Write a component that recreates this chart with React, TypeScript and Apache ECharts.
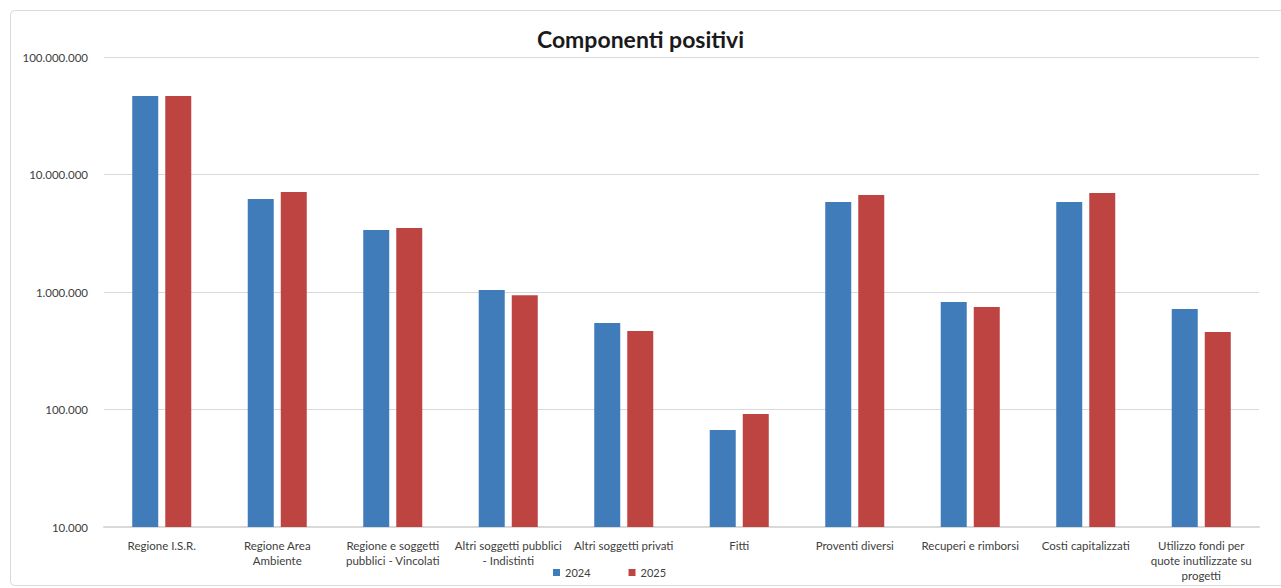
import React, { useEffect, useRef } from "react";
import * as echarts from "echarts";

const categories = [
  "Regione I.S.R.",
  "Regione Area\nAmbiente",
  "Regione e soggetti\npubblici - Vincolati",
  "Altri soggetti pubblici\n- Indistinti",
  "Altri soggetti privati",
  "Fitti",
  "Proventi diversi",
  "Recuperi e rimborsi",
  "Costi capitalizzati",
  "Utilizzo fondi per\nquote inutilizzate su\nprogetti",
];

const values2024 = [46600000, 6180000, 3370000, 1040000, 545000, 67000, 5830000, 822000, 5830000, 717000];
const values2025 = [46600000, 7100000, 3500000, 940000, 466000, 91500, 6700000, 745000, 6960000, 457000];

const seriesNames = ["2024", "2025"];

const fmt = (v: number) => String(Math.round(v)).replace(/\B(?=(\d{3})+(?!\d))/g, ".");

export default function App() {
  const ref = useRef<HTMLDivElement>(null);
  useEffect(() => {
    if (!ref.current) return;
    const chart = echarts.init(ref.current, null, { renderer: "svg" });
    const font = "Lato, 'Open Sans', sans-serif";
    chart.setOption({
      animation: false,
      backgroundColor: "#ffffff",
      textStyle: { fontFamily: font },
      title: {
        text: "Componenti positivi",
        left: "center",
        top: 22,
        textStyle: { fontSize: 23, fontWeight: "bold", color: "#1a1a1a", fontFamily: font },
      },
      graphic: [
        {
          type: "rect",
          shape: { x: 10.5, y: 10.5, width: 1300, height: 575, r: 4 },
          style: { fill: "none", stroke: "#d9d9d9", lineWidth: 1 },
          silent: true,
          z: -1,
        },
      ],
      legend: {
        bottom: 5,
        left: 548,
        itemWidth: 7,
        itemHeight: 7,
        itemGap: 38,
        icon: "rect",
        textStyle: { fontSize: 11, color: "#404040", fontFamily: font },
        data: seriesNames,
      },
      grid: { left: 104, right: 22, top: 57, bottom: 61, containLabel: false },
      xAxis: {
        type: "category",
        data: categories,
        axisLine: { lineStyle: { color: "#d9d9d9", width: 2 } },
        axisTick: { show: false },
        axisLabel: {
          interval: 0,
          color: "#404040",
          fontSize: 11.5,
          lineHeight: 15,
          margin: 11,
          fontFamily: font,
        },
      },
      yAxis: {
        type: "log",
        logBase: 10,
        min: 10000,
        max: 100000000,
        axisLine: { show: false },
        axisTick: { show: false },
        splitLine: { lineStyle: { color: "#d9d9d9", width: 1 } },
        axisLabel: {
          color: "#404040",
          fontSize: 11.5,
          margin: 16,
          fontFamily: font,
          formatter: (v: number) => fmt(v),
        },
      },
      series: [
        {
          name: seriesNames[0],
          type: "bar",
          data: values2024,
          barWidth: 26,
          barGap: "27%",
          itemStyle: { color: "#417CBA" },
        },
        {
          name: seriesNames[1],
          type: "bar",
          data: values2025,
          barWidth: 26,
          itemStyle: { color: "#BE4442" },
        },
      ],
    });
    return () => chart.dispose();
  }, []);
  return (
    <div
      ref={ref}
      style={{ position: "absolute", left: 0, top: 0, width: 1281, height: 588 }}
    />
  );
}
